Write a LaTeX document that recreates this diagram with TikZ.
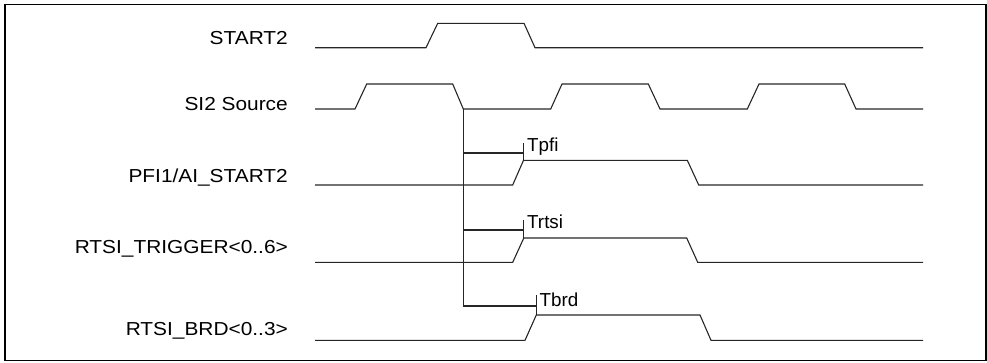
\documentclass[tikz,border=0pt]{standalone}
\usepackage{fontspec}
\setmainfont{Liberation Sans}
\begin{document}
\begin{tikzpicture}[x=1pt,y=-1pt,
  wave/.style={line width=1.1pt,draw=black!85,line join=miter},
  conn/.style={line width=1.1pt,draw=black!85},
  siglabel/.style={anchor=base east,inner sep=0pt,font=\fontsize{18.8}{20}\selectfont},
  tlabel/.style={anchor=base west,inner sep=0pt,font=\fontsize{18.8}{20}\selectfont}]
\useasboundingbox (0,0) rectangle (987,362);
\draw[line width=1.6pt] (5,4.5) rectangle (986,360.3);
% labels
\node[siglabel] (lstart) at (288,44.7) {\scalebox{1.11}[1]{START2}};
\node[siglabel] (lsi) at (288,110) {\scalebox{1.11}[1]{SI2 Source}};
\node[siglabel] (lpfi) at (288,182.7) {\scalebox{1.11}[1]{PFI1/AI\_START2}};
\node[siglabel] (lrtsi) at (288,253) {\scalebox{1.11}[1]{RTSI\_TRIGGER<0..6>}};
\node[siglabel] (lbrd) at (288,335) {\scalebox{1.11}[1]{RTSI\_BRD<0..3>}};
% waveforms
\draw[wave] (315,47.7) -- (426,47.7) -- (437.7,23.3) -- (524,23.3) -- (535,47.7) -- (923,47.7);
\draw[wave] (315,109) -- (355,109) -- (366.7,84) -- (452.7,84) -- (463.3,109) coordinate (edge)
  -- (550.7,109) -- (562,84) -- (648.3,84) -- (660,109) -- (747.3,109) -- (759,84)
  -- (844.7,84) -- (856,109) -- (923,109);
\draw[wave] (315,185) -- (512.7,185) -- (523.5,160.3) coordinate (pfihi) -- (687.3,160.3) -- (698.7,185) -- (923,185);
\draw[wave] (315,262.3) -- (512.7,262.3) -- (523.8,238) coordinate (rtsihi) -- (686.7,238) -- (697.7,262.3) -- (923,262.3);
\draw[wave] (315,340.3) -- (525,340.3) -- (536.3,315) coordinate (brdhi) -- (700,315) -- (711,340.3) -- (923,340.3);
% timing lines
\coordinate (b1) at (463.3,153);
\coordinate (b2) at (463.3,230);
\coordinate (b3) at (463.3,306);
\coordinate (t1) at (523.5,153);
\coordinate (t2) at (523.8,230);
\coordinate (t3) at (536.3,306);
\draw[conn] (edge) -- (b3) -- (t3);
\draw[conn] (b1) -- (t1);
\draw[conn] (b2) -- (t2);
\draw[conn] (523.5,143) -- (pfihi);
\draw[conn] (523.8,220) -- (rtsihi);
\draw[conn] (536.3,295) -- (brdhi);
\node[tlabel] (tpfi) at (527,151.7) {Tpfi};
\node[tlabel] (trtsi) at (527,228.3) {Trtsi};
\node[tlabel] (tbrd) at (539.5,306.7) {Tbrd};
\end{tikzpicture}
\end{document}
